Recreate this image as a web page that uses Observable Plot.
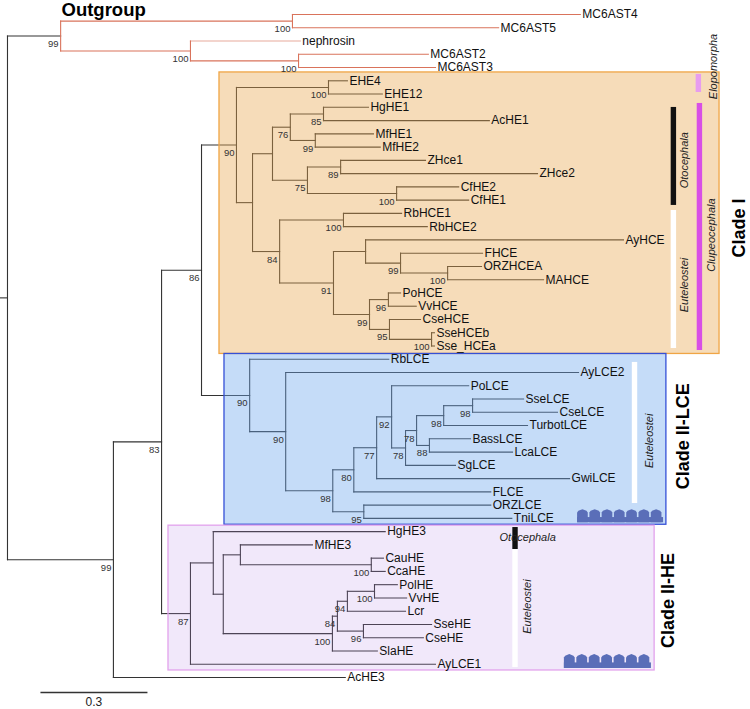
<!DOCTYPE html>
<html><head><meta charset="utf-8">
<script src="https://cdn.jsdelivr.net/npm/d3@7"></script>
<script src="https://cdn.jsdelivr.net/npm/@observablehq/plot@0.6"></script>
<style>body{margin:0;background:#fff}svg{display:block}</style>
</head><body><div id="chart"></div>
<script>
// ---------- DATA ----------
// Tree (branch lengths in substitutions/site, internal labels = bootstrap support)
const outgroupNewick = "((MC6AST4:0.807,MC6AST5:0.578)100:0.650,(nephrosin:0.308,(MC6AST2:0.364,MC6AST3:0.384)100:0.303)100:0.364)99:0.149";
const cladeINewick = "((EHE4:0.053,EHE12:0.151)100:0.258,((((HgHE1:0.126,AcHE1:0.465)85:0.093,(MfHE1:0.163,MfHE2:0.182)99:0.070)76:0.050,((ZHce1:0.238,ZHce2:0.552)89:0.093,(CfHE2:0.174,CfHE1:0.202)100:0.250)75:0.098):0.056,((RbHCE1:0.163,RbHCE2:0.235)100:0.179,((AyHCE:0.723,(FHCE:0.230,(ORZHCEA:0.095,MAHCE:0.269)100:0.132)99:0.098):0.090,((PoHCE:0.034,VvHCE:0.078)96:0.053,(CseHCE:0.087,(SseHCEb:0.008,Sse_HCEa:0.008)100:0.118)95:0.056)99:0.101)91:0.151)84:0.076):0.045)90:0.098";
const cladeIILCENewick = "(RbLCE:0.390,(AyLCE2:0.821,((((PoLCE:0.216,((((SseLCE:0.143,CseLCE:0.238)98:0.081,TurbotLCE:0.235)98:0.076,(BassLCE:0.115,LcaLCE:0.233)88:0.036)78:0.031,SgLCE:0.140)78:0.039)92:0.042,GwiLCE:0.541)77:0.064,FLCE:0.384)80:0.059,(ORZLCE:0.356,TniLCE:0.415)95:0.087)98:0.132)90:0.101)90:0.135";
const cladeIIHENewick = "((HgHE3:0.482,((MfHE3:0.202,(CauHE:0.034,CcaHE:0.039)100:0.367):0.048,((((PolHE:0.064,VvHE:0.090)100:0.076,Lcr:0.163)94:0.028,(SseHE:0.191,CseHE:0.168)96:0.073)84:0.014,SlaHE:0.126)100:0.306):0.028):0.064,AyLCE1:0.687)87:0.081";
const ingroupNewick = `(((${cladeINewick},${cladeIILCENewick})86:0.112,${cladeIIHENewick})83:0.135,AcHE3:0.650)99:0.297`;
const treeNewick = `(${outgroupNewick},${ingroupNewick}):0.0196;`;

const boldTips = ["SseHCEb", "Sse_HCEa", "SseLCE", "SseHE"];
const lightTips = ["nephrosin"];

// clade boxes: x in substitutions/site, y in tip rows
const boxNames   = ["Clade I", "Clade II-LCE", "Clade II-HE"];
const boxX1      = [0.614, 0.628, 0.471];
const boxX2      = [2.016, 1.867, 1.834];
const boxY1      = [4.37, 25.6, 38.55];
const boxY2      = [25.6, 38.48, 49.47];
const boxFill    = ["#e8a750", "#6ea7ed", "#b78ce8"];
const boxOpacity = [0.4, 0.4, 0.2];
const boxStroke  = ["#f0a545", "#3550d6", "#e2a2ec"];
const boxLabelX  = [2.07, 1.915, 1.873];
const boxLabelY  = [16.1, 31.8, 44.2];

// taxonomic bars
const barNames = ["Elopomorpha", "Clupeocephala", "Otocephala", "Euteleostei", "Euteleostei", "Otocephala", "Euteleostei"];
const barX     = [1.958, 1.961, 1.888, 1.888, 1.779, 1.444, 1.444];
const barY1    = [4.52, 6.71, 7.01, 14.78, 26.24, 38.69, 40.35];
const barY2    = [5.88, 25.34, 14.40, 25.19, 36.88, 40.35, 49.25];
const barColor = ["#e79cef", "#d84fe6", "#111111", "#ffffff", "#ffffff", "#111111", "#ffffff"];
const barTextX = [1.999, 1.993, 1.918, 1.918, 1.820, 1.478, 1.478];
const barTextY = [3.92, 16.64, 10.99, 20.4, 32.15, 39.44, 44.65];
const barTextRotate = [-90, -90, -90, -90, -90, 0, -90];

// membrane glyphs (Clade II-LCE, Clade II-HE)
const glyphX1 = [1.618, 1.581];
const glyphX2 = [1.859, 1.825];
const glyphY1 = [37.35, 48.27];
const glyphY2 = [38.33, 49.32];

// scale bar
const scaleBarLength = 0.3;
const scaleBarStart = 0.112;
const scaleBarRow = 51.13;

// ---------- PARSE / LAYOUT ----------
function parseNewick(s) {
  let i = 0;
  function node() {
    const n = {children: []};
    if (s[i] === "(") {
      i++;
      n.children.push(node());
      while (s[i] === ",") { i++; n.children.push(node()); }
      i++;
    }
    let name = "";
    while (i < s.length && !":,);".includes(s[i])) name += s[i++];
    n.name = name;
    n.len = 0;
    if (s[i] === ":") {
      i++;
      let b = "";
      while (i < s.length && !",);".includes(s[i])) b += s[i++];
      n.len = +b;
    }
    return n;
  }
  return node();
}
const root = parseNewick(treeNewick);
let tipIndex = 0;
function layout(n, parentDepth, red) {
  n.px = parentDepth;
  n.depth = parentDepth + n.len;
  n.redH = red;
  const redBelow = red || n === root.children[0];
  n.redV = redBelow;
  if (n.children.length) {
    n.children.forEach(c => layout(c, n.depth, redBelow));
    n.y = (n.children[0].y + n.children[n.children.length - 1].y) / 2;
  } else {
    n.y = tipIndex++;
  }
}
layout(root, 0, false);
const all = [];
(function walk(n) { all.push(n); n.children.forEach(walk); })(root);
const tips = all.filter(n => !n.children.length);
const internals = all.filter(n => n.children.length);

const segs = [];
for (const n of all) {
  segs.push({x1: n.px, x2: n.depth, y1: n.y, y2: n.y,
    color: n.redH ? "#d9735b" : "#333", op: lightTips.includes(n.name) ? 0.6 : 1});
  if (n.children.length) {
    segs.push({x1: n.depth, x2: n.depth, y1: n.children[0].y, y2: n.children[n.children.length - 1].y,
      color: n.redV ? "#d9735b" : "#333", op: 1});
  }
}
const supports = internals.filter(n => n.name !== "");

const boxes = boxNames.map((name, i) => ({name, x1: boxX1[i], x2: boxX2[i], y1: boxY1[i], y2: boxY2[i],
  fill: boxFill[i], op: boxOpacity[i], stroke: boxStroke[i], lx: boxLabelX[i], ly: boxLabelY[i]}));
const pxU = scaleBarLength / 107;
const bars = barNames.map((name, i) => ({name, x1: barX[i] - 2.7 * pxU, x2: barX[i] + 2.7 * pxU,
  y1: barY1[i], y2: barY2[i], color: barColor[i], tx: barTextX[i], ty: barTextY[i], rot: barTextRotate[i]}));

// membrane glyph humps
const humps = [];
const glyphBase = [];
glyphX1.forEach((gx1, g) => {
  const w = (glyphX2[g] - gx1) / 7;
  const yb = glyphY2[g], yt = glyphY1[g], h = yb - yt;
  glyphBase.push({x1: gx1, x2: glyphX2[g], y1: yb - 0.4 * h, y2: yb});
  for (let k = 0; k < 7; k++) {
    const a = gx1 + k * w, b = a + w - 1.6 * pxU;
    const id = g * 10 + k;
    humps.push({id, x: a, yt: yt + 0.25 * h, yb});
    humps.push({id, x: a + (b - a) * 0.12, yt: yt + 0.12 * h, yb});
    humps.push({id, x: (a + b) / 2, yt: yt, yb});
    humps.push({id, x: a + (b - a) * 0.88, yt: yt + 0.12 * h, yb});
    humps.push({id, x: b, yt: yt + 0.25 * h, yb});
  }
});

const font = "'Liberation Sans', Arial, Helvetica, sans-serif";
const W = 750, H = 709;
const rowPx = 13.26, topPx = 14;

const chart = Plot.plot({
  width: W, height: H, margin: 0,
  x: {domain: [0, W * pxU], range: [0, W], axis: null},
  y: {domain: [-topPx / rowPx, (H - topPx) / rowPx], range: [0, H], axis: null},
  style: {fontFamily: font, background: "#fff", overflow: "visible"},
  marks: [
    Plot.link(segs, {x1: "x1", x2: "x2", y1: "y1", y2: "y2", stroke: d => d.color,
      strokeOpacity: "op", strokeWidth: 1.1, strokeLinecap: "square"}),
    Plot.rect(boxes, {x1: "x1", x2: "x2", y1: "y1", y2: "y2", fill: "fill", fillOpacity: "op"}),
    Plot.rect(boxes, {x1: "x1", x2: "x2", y1: "y1", y2: "y2", fill: "none", stroke: "stroke", strokeWidth: 1.3}),
    Plot.rect(bars, {x1: "x1", x2: "x2", y1: "y1", y2: "y2", fill: "color"}),
    Plot.text(bars, {x: "tx", y: "ty", text: "name", rotate: "rot", fontSize: 11, fontStyle: "italic", fill: "#222",
      textAnchor: d => d.rot === 0 ? "start" : "middle"}),
    Plot.rect(glyphBase, {x1: "x1", x2: "x2", y1: "y1", y2: "y2", fill: "#5a6eb8"}),
    Plot.area(humps, {x1: "x", y1: "yb", y2: "yt", z: "id", fill: "#5a6eb8", curve: "linear"}),
    Plot.text(boxes, {x: "lx", y: "ly", text: "name", rotate: -90, fontSize: 18, fontWeight: "bold", fill: "#000"}),
    Plot.text(tips, {x: "depth", y: "y", text: "name", dx: 2, textAnchor: "start", fontSize: 12,
      fill: "#111", fontWeight: d => boldTips.includes(d.name) ? "bold" : "normal"}),
    Plot.text(supports, {x: "depth", y: "y", text: "name", dx: -2, dy: 8, textAnchor: "end", fontSize: 9.5, fill: "#333"}),
    Plot.text(["Outgroup"], {x: 0.171, y: -0.905, text: d => d, textAnchor: "start", lineAnchor: "top",
      fontSize: 18.5, fontWeight: "bold", fill: "#000"}),
    Plot.link([{x1: scaleBarStart, x2: scaleBarStart + scaleBarLength, y: scaleBarRow}],
      {x1: "x1", x2: "x2", y1: "y", y2: "y", stroke: "#333", strokeWidth: 1.3}),
    Plot.text([scaleBarLength], {x: scaleBarStart + scaleBarLength / 2, y: scaleBarRow, dy: 10, text: d => String(d), fontSize: 12, fill: "#222"})
  ]
});
document.getElementById("chart").appendChild(chart);
</script>
</body></html>
